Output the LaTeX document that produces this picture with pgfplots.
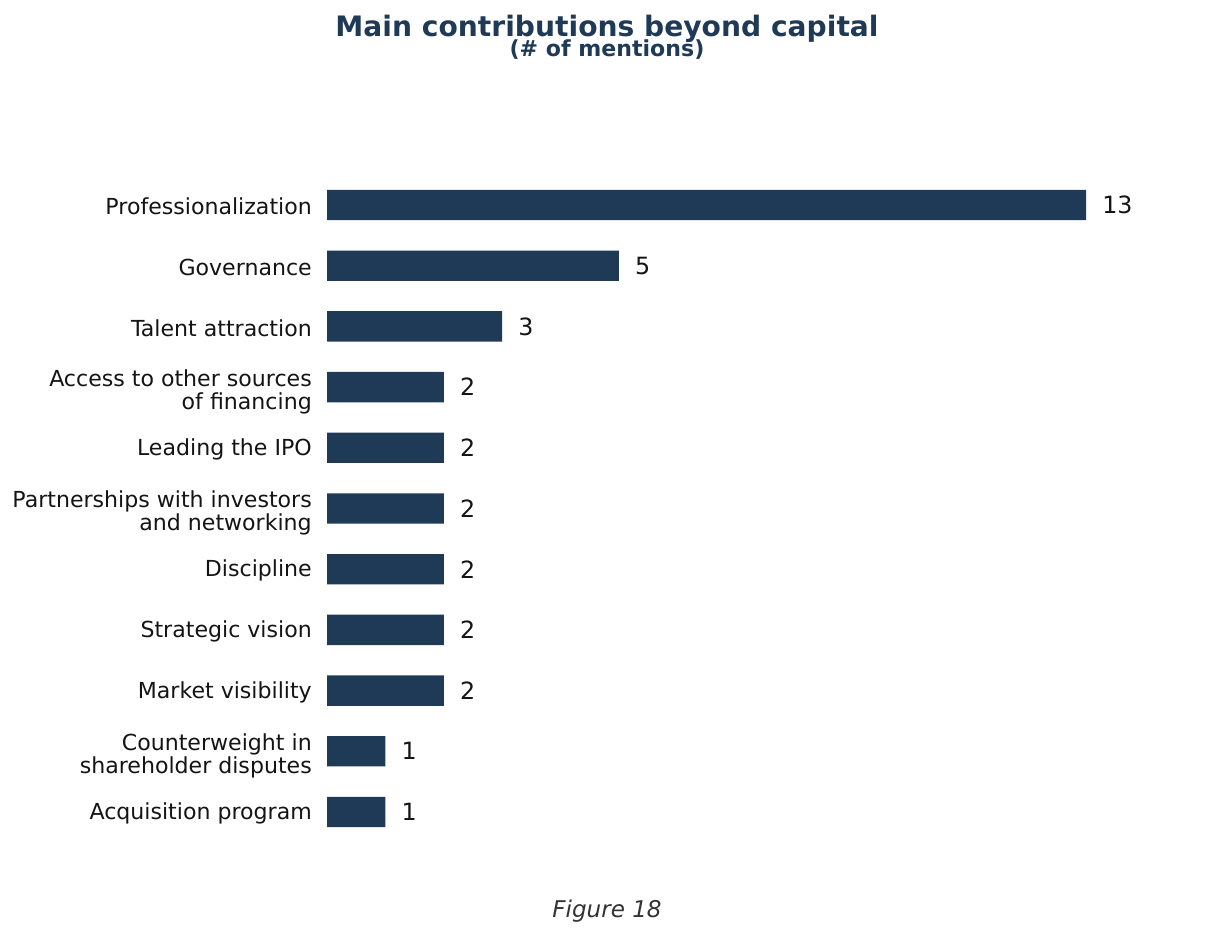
\documentclass[border=0pt]{standalone}
\usepackage{fontspec}
\setmainfont{DejaVu Sans}
\usepackage{pgfplots}
\pgfplotsset{compat=1.18}
\definecolor{navy}{HTML}{1F3A56}
\definecolor{txt}{HTML}{141414}
\begin{document}
\begin{tikzpicture}
\path[use as bounding box] (0pt,0pt) rectangle (874.8pt,674.64pt);
\begin{axis}[
  at={(235.44pt,56.16pt)}, anchor=south west,
  width=573.84pt, height=504.72pt, scale only axis,
  xmin=0, xmax=13.65, ymin=-0.775, ymax=10.775,
  axis line style={draw=none},
  tick style={draw=none},
  xtick=\empty,
  ytick={0,2,3,4,6,8,9,10},
  yticklabels={Acquisition program,Market visibility,Strategic vision,Discipline,Leading the IPO,Talent attraction,Governance,Professionalization},
  extra y ticks={1,5,7},
  extra y tick labels={{Counterweight in\\shareholder disputes},{Partnerships with investors\\and networking},{Access to other sources\\of financing}},
  extra y tick style={yticklabel style={yshift=-2.2pt}, tick style={draw=none}},
  yticklabel style={font=\fontsize{15.9}{16.5}\selectfont, text=txt, align=right, inner sep=0pt, xshift=-6.5pt, yshift=-1pt},
  /pgf/number format/assume math mode=true,
  xbar, bar width=0.5,
  nodes near coords,
  nodes near coords style={font=\fontsize{17.1}{20}\selectfont, text=txt, anchor=west, inner sep=0pt, xshift=11.5pt},
]
\addplot[fill=navy, draw=none] coordinates {
(1,0) (1,1) (2,2) (2,3) (2,4) (2,5) (2,6) (2,7) (3,8) (5,9) (13,10)
};
\end{axis}
\node[anchor=base, text=navy, font=\fontsize{20.26}{24}\selectfont\bfseries] at (437.04pt,648pt) {Main contributions beyond capital};
\node[anchor=base, text=navy, font=\fontsize{15.9}{18}\selectfont\bfseries] at (437.04pt,634.3pt) {(\# of mentions)};
\node[anchor=base, text=black!80, font=\fontsize{16.6}{19}\selectfont\itshape] at (437.04pt,14.4pt) {Figure 18};
\end{tikzpicture}
\end{document}
